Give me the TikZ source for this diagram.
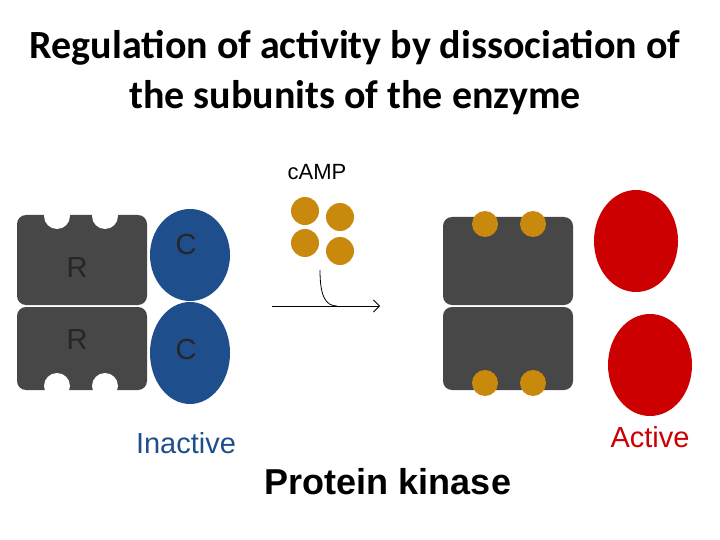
\documentclass[tikz,border=0pt]{standalone}
\usepackage{fontspec}
\usetikzlibrary{arrows.meta}
\setmainfont{Liberation Sans}
\newfontfamily\titlefont{Carlito}
\begin{document}
\begin{tikzpicture}[x=1pt,y=-1pt,
  rblock/.style={fill=black!72, rounded corners=9pt},
  notch/.style={fill=white},
  campdot/.style={fill=campc},
  lbl/.style={font=\fontsize{29}{32}\selectfont, text=black!85}]
\definecolor{campc}{HTML}{C8890C}
\definecolor{cblue}{HTML}{1F4E8C}
\definecolor{cred}{HTML}{CC0000}
\useasboundingbox (0,0) rectangle (720,540);
\node[font=\titlefont\bfseries\fontsize{40}{50}\selectfont, align=center] (title) at (355,73) {Regulation of activity by dissociation of\\the subunits of the enzyme};
% left
\fill[rblock] (17,215) rectangle (147,305);
\fill[rblock] (17,307) rectangle (147,390);
\foreach \x in {57,105}{\fill[notch] (\x,216) circle (13); \fill[notch] (\x,386) circle (13);}
\fill[cblue] (190,255) ellipse (40 and 46);
\fill[cblue] (190,353) ellipse (40 and 51);
\node[lbl] (r1) at (77,268) {R};
\node[lbl] (r2) at (77,340) {R};
\node[lbl] (c1) at (186,245) {C};
\node[lbl] (c2) at (186,350) {C};
\node[font=\fontsize{29}{32}\selectfont, text=cblue] (inact) at (186,443) {Inactive};
% cAMP
\node[font=\fontsize{22}{26}\selectfont] (camp) at (317,172) {cAMP};
\foreach \p in {(305,211),(340,217),(305,243),(340,251)} \fill[campdot] \p circle (14);
\coordinate (a0) at (272,306); \coordinate (a1) at (380,306);
\coordinate (b0) at (320,270); \coordinate (b1) at (337,306);
\draw[-{Straight Barb[length=6pt]}, thick] (a0) -- (a1);
\draw[thick] (b0) .. controls (320,295) and (325,306) .. (b1);
% right
\fill[rblock] (443,217) rectangle (573,305);
\fill[rblock] (443,307) rectangle (573,390);
\foreach \x in {485,533}{\fill[campdot] (\x,224) circle (13); \fill[campdot] (\x,383) circle (13);}
\fill[cred] (636,241) ellipse (42 and 51);
\fill[cred] (650,365) ellipse (42 and 51);
\node[font=\fontsize{29}{32}\selectfont, text=cred] (act) at (650,437) {Active};
\node[font=\bfseries\fontsize{36}{40}\selectfont] (pk) at (388,482) {Protein kinase};
\end{tikzpicture}
\end{document}
